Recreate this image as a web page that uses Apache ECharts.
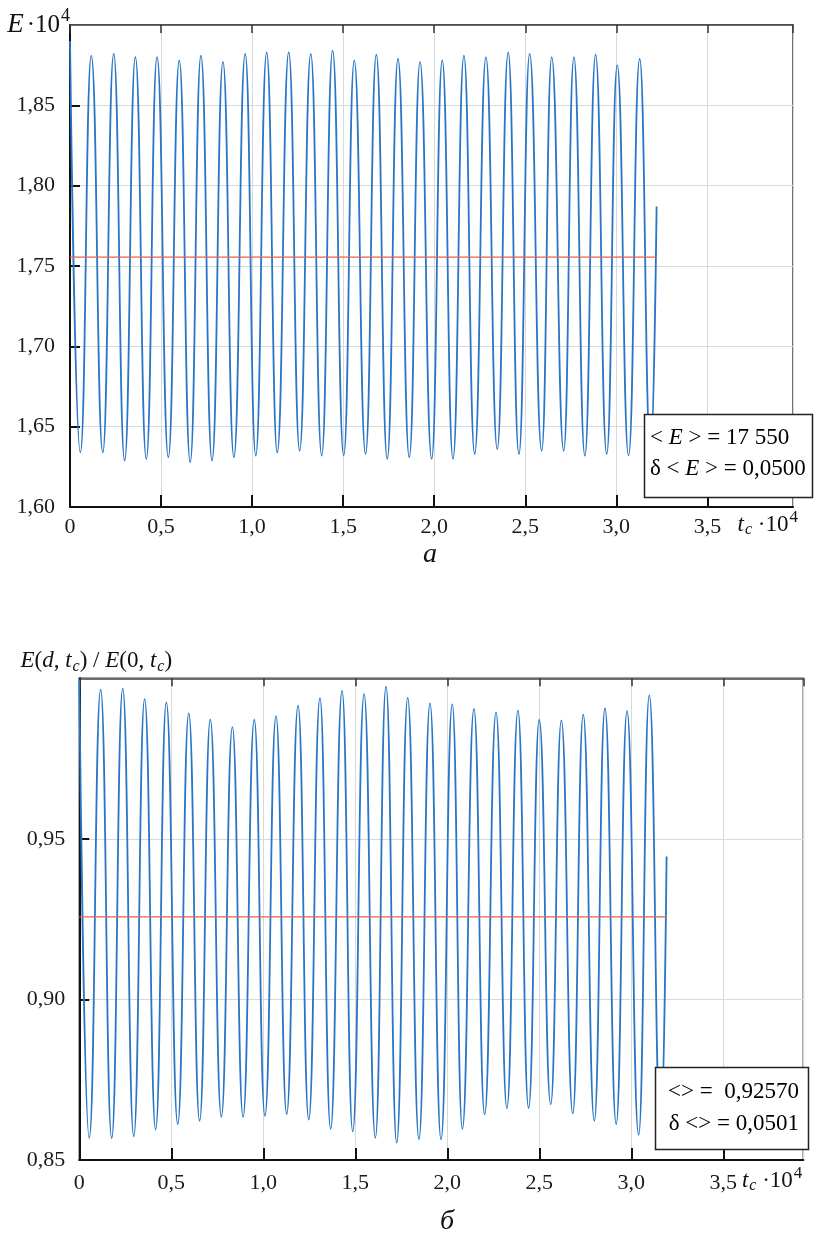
<!DOCTYPE html>
<html>
<head>
<meta charset="utf-8">
<script src="https://cdn.jsdelivr.net/npm/echarts@6/dist/echarts.min.js"></script>
<style>html,body{margin:0;padding:0;background:#fff}#c{width:816px;height:1238px}</style>
</head>
<body>
<div id="c"></div>
<script>
// ---------- data ----------
// panel а: extrema of E(t_c) (t in units of 10^4, E in units of 10^4)
const tA = [0, 0.057,0.117, 0.180,0.240, 0.300,0.359, 0.419,0.478, 0.540,0.600, 0.660,0.719, 0.780,0.840,
  0.900,0.962, 1.020,1.080, 1.138,1.201, 1.261,1.322, 1.382,1.442, 1.503,1.561, 1.623,1.682, 1.742,1.801,
  1.863,1.922, 1.986,2.044, 2.103,2.163, 2.222,2.284, 2.346,2.406, 2.465,2.524, 2.590,2.645, 2.711,2.767,
  2.827,2.886, 2.947,3.005, 3.067,3.128, 3.188, 3.221];
const eA = [1.890, 1.634,1.881, 1.634,1.882, 1.629,1.880, 1.630,1.880, 1.631,1.878, 1.628,1.881, 1.629,1.877,
  1.631,1.882, 1.632,1.883, 1.634,1.883, 1.635,1.882, 1.632,1.884, 1.632,1.878, 1.633,1.8815, 1.630,1.879,
  1.631,1.877, 1.630,1.878, 1.630,1.881, 1.633,1.880, 1.636,1.883, 1.633,1.882, 1.635,1.880, 1.635,1.880,
  1.632,1.8815, 1.633,1.875, 1.632,1.879, 1.633, 1.787];
const meanA = 1.7555;      // <E> = 17 550
const meanEndA = 3.217;

// panel б: extrema of E(d,t_c)/E(0,t_c)
const tB = [0, 0.054,0.116, 0.176,0.236, 0.296,0.355, 0.415,0.473, 0.535,0.595, 0.654,0.712, 0.772,0.832,
  0.890,0.951, 1.009,1.069, 1.127,1.189, 1.247,1.308, 1.366,1.428, 1.486,1.548, 1.609,1.667, 1.725,1.785,
  1.846,1.906, 1.966,2.027, 2.082,2.145, 2.203,2.265, 2.324,2.384, 2.442,2.500, 2.562,2.620, 2.682,2.739,
  2.799,2.857, 2.918,2.977, 3.040,3.098, 3.160, 3.192];
const rB = [0.9995, 0.8569,0.9965, 0.8568,0.9968, 0.8574,0.9935, 0.8595,0.9925, 0.8612,0.9891, 0.8622,0.9872,
  0.8634,0.9848, 0.8634,0.9871, 0.8637,0.9882, 0.8643,0.9915, 0.8626,0.9938, 0.8597,0.9961, 0.8589,0.9951,
  0.8569,0.9974, 0.8554,0.9939, 0.8565,0.9922, 0.8564,0.9919, 0.8597,0.9905, 0.8642,0.9894, 0.8661,0.9900,
  0.8662,0.9871, 0.8673,0.9869, 0.8645,0.9887, 0.8622,0.9906, 0.8612,0.9898, 0.8579,0.9947, 0.8580, 0.9445];
const meanB = 0.9257;      // <> = 0,92570
const meanEndB = 3.19;

// tick labels
const xTickLabels = ['0','0,5','1,0','1,5','2,0','2,5','3,0','3,5'];
const yTickLabelsA = ['1,60','1,65','1,70','1,75','1,80','1,85'];
const yTickLabelsB = ['0,85','0,90','0,95'];

// ---------- chart ----------
const FONT = "'Liberation Serif','Times New Roman',serif";
const INK = '#111';
const BLUE = '#2a76c6';
const RED = '#e8604c';
const GRIDC = '#d9d9d9';

function pairs(t, v) { return t.map((x, i) => [x, v[i]]); }
function fromList(list, start, step) {
  return function (v) {
    const k = Math.round((v - start) / step);
    if (Math.abs(v - (start + k * step)) > 1e-6 || k < 0 || k >= list.length) return '';
    return list[k];
  };
}
function rich(size) {
  return {
    n: {fontFamily: FONT, fontSize: size, color: INK},
    i: {fontFamily: FONT, fontSize: size, fontStyle: 'italic', color: INK},
    sub: {fontFamily: FONT, fontSize: Math.round(size * 0.68), fontStyle: 'italic', color: INK, padding: [10, 0, 0, 1]},
    sup: {fontFamily: FONT, fontSize: Math.round(size * 0.72), color: INK, padding: [0, 0, 14, 1]}
  };
}

function xBottom(grid, max, padTop, gap, margin) {
  return {
    type: 'value', gridIndex: grid, position: 'bottom', min: 0, max: max, interval: 0.5,
    axisLine: {show: true, onZero: false, lineStyle: {color: INK, width: 2}},
    axisTick: {show: true, inside: true, length: 12, lineStyle: {color: INK, width: 2}},
    axisLabel: {show: true, margin: margin, fontFamily: FONT, fontSize: 22, color: '#1a1a1a',
      showMaxLabel: false, formatter: fromList(xTickLabels, 0, 0.5)},
    splitLine: {show: true, lineStyle: {color: GRIDC, width: 1}},
    name: '{i|t}{sub|c}{n| ·10}{sup|4}', nameLocation: 'end', nameGap: gap,
    nameTextStyle: {align: 'right', verticalAlign: 'top', padding: [padTop, 0, 0, 0], rich: rich(23)}
  };
}
function xTop(grid, max) {
  return {
    type: 'value', gridIndex: grid, position: 'top', min: 0, max: max, interval: 0.5,
    axisLine: {show: true, onZero: false, lineStyle: {color: '#444', width: 1.5}},
    axisTick: {show: true, inside: true, length: 8, lineStyle: {color: '#333', width: 1.5}},
    axisLabel: {show: false}, splitLine: {show: false}
  };
}
function yLeft(grid, min, max, labels, margin, name, nameGap, nameStyle) {
  return {
    type: 'value', gridIndex: grid, min: min, max: max, interval: 0.05,
    axisLine: {show: true, onZero: false, lineStyle: {color: INK, width: 2}},
    axisTick: {show: true, inside: true, length: 10, lineStyle: {color: INK, width: 2}},
    axisLabel: {show: true, margin: margin, fontFamily: FONT, fontSize: 22, color: '#1a1a1a',
      showMaxLabel: false, formatter: fromList(labels, min, 0.05)},
    splitLine: {show: true, lineStyle: {color: GRIDC, width: 1}},
    name: name, nameLocation: 'end', nameGap: nameGap, nameTextStyle: nameStyle
  };
}

const chart = echarts.init(document.getElementById('c'), null, {renderer: 'canvas'});
const option = {
  animation: false,
  backgroundColor: '#fff',
  grid: [
    {left: 70, top: 25, width: 723, height: 482, show: true, borderColor: '#444', borderWidth: 1.5,
      backgroundColor: 'transparent', containLabel: false, outerBoundsMode: 'none'},
    {left: 79.3, top: 678.3, width: 724, height: 481.7, show: true, borderColor: '#444', borderWidth: 1.5,
      backgroundColor: 'transparent', containLabel: false, outerBoundsMode: 'none'}
  ],
  xAxis: [
    xBottom(0, 3.97, 2, 5, 9),
    xTop(0, 3.97),
    xBottom(1, 3.935, 5, -1, 12),
    xTop(1, 3.935)
  ],
  yAxis: [
    yLeft(0, 1.60, 1.90, yTickLabelsA, 15, '{i|E}{n|·10}{sup|4}', 0,
      {align: 'right', verticalAlign: 'middle', rich: Object.assign(rich(25), {
        i: {fontFamily: FONT, fontSize: 27, fontStyle: 'italic', color: INK, padding: [0, 3, 0, 0]},
        sup: {fontFamily: FONT, fontSize: 18, color: INK, padding: [0, 0, 18, 1]}})}),
    yLeft(1, 0.85, 1.00, yTickLabelsB, 14,
      '{i|E}{n|(}{i|d}{n|, }{i|t}{sub|c}{n|) / }{i|E}{n|(0, }{i|t}{sub|c}{n|)}', 17,
      {align: 'center', verticalAlign: 'middle', padding: [0, 0, 0, 34], rich: rich(23)})
  ],
  series: [
    {type: 'line', xAxisIndex: 0, yAxisIndex: 0, data: pairs(tA, eA), smooth: 0.5, smoothMonotone: 'x',
      symbol: 'none', lineStyle: {color: BLUE, width: 1.8}, z: 3},
    {type: 'line', xAxisIndex: 0, yAxisIndex: 0, data: [[0, meanA], [meanEndA, meanA]],
      symbol: 'none', lineStyle: {color: RED, width: 1.3}, z: 4},
    {type: 'line', xAxisIndex: 2, yAxisIndex: 1, data: pairs(tB, rB), smooth: 0.5, smoothMonotone: 'x',
      symbol: 'none', lineStyle: {color: BLUE, width: 1.8}, z: 3},
    {type: 'line', xAxisIndex: 2, yAxisIndex: 1, data: [[0, meanB], [meanEndB, meanB]],
      symbol: 'none', lineStyle: {color: RED, width: 1.3}, z: 4}
  ],
  graphic: [
    // legend box а
    {type: 'rect', z: 100, shape: {x: 644.5, y: 414.5, width: 168, height: 83},
      style: {fill: '#fff', stroke: '#222', lineWidth: 1.5}},
    {type: 'text', z: 101, x: 650, y: 438,
      style: {text: '{n|< }{i|E}{n| > = 17 550}', align: 'left', verticalAlign: 'middle', rich: rich(23)}},
    {type: 'text', z: 101, x: 650, y: 469,
      style: {text: '{n|δ < }{i|E}{n| > = 0,0500}', align: 'left', verticalAlign: 'middle', rich: rich(23)}},
    // legend box б
    {type: 'rect', z: 100, shape: {x: 655.5, y: 1067.5, width: 153, height: 82},
      style: {fill: '#fff', stroke: '#222', lineWidth: 1.5}},
    {type: 'text', z: 101, x: 799, y: 1092,
      style: {text: '{n|<> =  0,92570}', align: 'right', verticalAlign: 'middle', rich: rich(23)}},
    {type: 'text', z: 101, x: 799, y: 1124,
      style: {text: '{n|δ <> = 0,0501}', align: 'right', verticalAlign: 'middle', rich: rich(23)}},
    // panel captions
    {type: 'text', z: 101, x: 430, y: 555,
      style: {text: 'а', fontFamily: FONT, fontSize: 28, fontStyle: 'italic', fill: INK,
        align: 'center', verticalAlign: 'middle', textAlign: 'center', textVerticalAlign: 'middle'}},
    {type: 'text', z: 101, x: 447, y: 1222,
      style: {text: 'б', fontFamily: FONT, fontSize: 28, fontStyle: 'italic', fill: INK,
        align: 'center', verticalAlign: 'middle', textAlign: 'center', textVerticalAlign: 'middle'}}
  ]
};
chart.setOption(option);
</script>
</body>
</html>
